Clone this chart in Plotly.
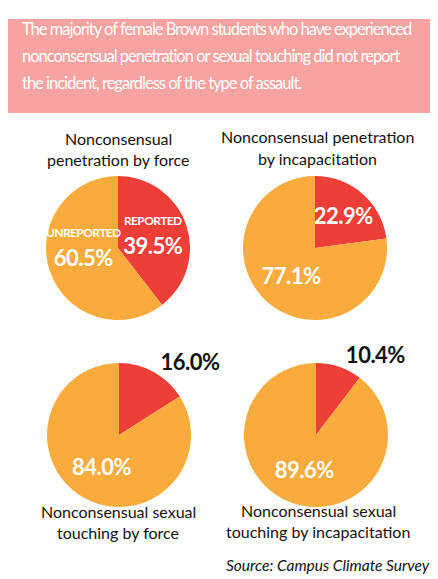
import plotly.graph_objects as go

W, H = 438, 579

headline = [
    "The majority of female Brown students who have experienced",
    "nonconsensual penetration or sexual touching did not report",
    "the incident, regardless of the type of assault.",
]
pie_titles = [
    "Nonconsensual<br>penetration by force",
    "Nonconsensual penetration<br>by incapacitation",
    "Nonconsensual sexual<br>touching by force",
    "Nonconsensual sexual<br>touching by incapacitation",
]
categories = ["REPORTED", "UNREPORTED"]
reported = [39.5, 22.9, 16.0, 10.4]
unreported = [60.5, 77.1, 84.0, 89.6]
source = "Source: Campus Climate Survey"

RED = "#EE3E38"
ORANGE = "#F9AC3D"
PINK = "#F7A3A1"

# layout (pixels): pie centers and radius
centers = [(110, 240), (307, 240), (111, 427), (308, 427)]
R = 72
title_pos = [((110, 130), (110, 151)), ((309, 128), (309, 150)),
             ((110, 503), (110, 524)), ((310, 502), (310, 523))]

def px_x(x):
    return x / W

def px_y(y):
    return 1 - y / H

def pct(v):
    return "<span style='letter-spacing:-0.5px'>%.1f%%</span>" % v

fig = go.Figure()
for i, (cx, cy) in enumerate(centers):
    if i == 0:
        texts = ["<span style='font-size:12px;letter-spacing:-0.6px'>%s</span><br>%s" % (categories[0], pct(reported[i])),
                 "<span style='font-size:12px;letter-spacing:-0.6px'>%s</span><br>%s" % (categories[1], pct(unreported[i]))]
        pos = ["inside", "inside"]
        colors = ["white", "white"]
    elif i == 1:
        texts = [pct(reported[i]), pct(unreported[i])]
        pos = ["inside", "inside"]
        colors = ["white", "white"]
    else:
        texts = [pct(reported[i]), pct(unreported[i])]
        pos = ["outside", "inside"]
        colors = ["#111111", "white"]
    fig.add_trace(go.Pie(
        labels=categories,
        values=[reported[i], unreported[i]],
        sort=False,
        direction="clockwise",
        rotation=0,
        marker=dict(colors=[RED, ORANGE], line=dict(width=0)),
        text=texts,
        textinfo="text",
        textposition=pos,
        insidetextorientation="horizontal",
        textfont=dict(family="Lato, sans-serif", size=22, color=colors, weight="bold"),
        hoverinfo="label+value",
        showlegend=False,
        domain=dict(x=[px_x(cx - R), px_x(cx + R)], y=[px_y(cy + R), px_y(cy - R)]),
    ))

annotations = []
line_y = [21, 48, 75]
for t, y in zip(headline, line_y):
    annotations.append(dict(
        text="<span style='letter-spacing:-1px'>%s</span>" % t,
        x=px_x(12), y=px_y(y), xref="paper", yref="paper",
        xanchor="left", yanchor="middle", showarrow=False,
        font=dict(family="Lato, sans-serif", size=16.5, color="white"),
    ))
for t, ((x1, y1), (x2, y2)) in zip(pie_titles, title_pos):
    lines = t.split("<br>")
    for ln, (x, y) in zip(lines, [(x1, y1), (x2, y2)]):
        annotations.append(dict(
            text=ln, x=px_x(x), y=px_y(y), xref="paper", yref="paper",
            xanchor="center", yanchor="middle", showarrow=False,
            font=dict(family="Lato, sans-serif", size=16, color="#111111"),
        ))
annotations.append(dict(
    text=source, x=px_x(216), y=px_y(557), xref="paper", yref="paper",
    xanchor="left", yanchor="middle", showarrow=False,
    font=dict(family="Lato, sans-serif", size=15.5, color="#111111", style="italic"),
))

fig.update_layout(
    width=W, height=H,
    margin=dict(l=0, r=0, t=0, b=0),
    paper_bgcolor="white",
    plot_bgcolor="white",
    uniformtext=dict(minsize=22, mode="show"),
    shapes=[dict(type="rect", xref="paper", yref="paper",
                 x0=0, x1=px_x(435), y0=px_y(105), y1=px_y(11),
                 fillcolor=PINK, line=dict(width=0), layer="below")],
    annotations=annotations,
)

fig.write_html("out.html")
